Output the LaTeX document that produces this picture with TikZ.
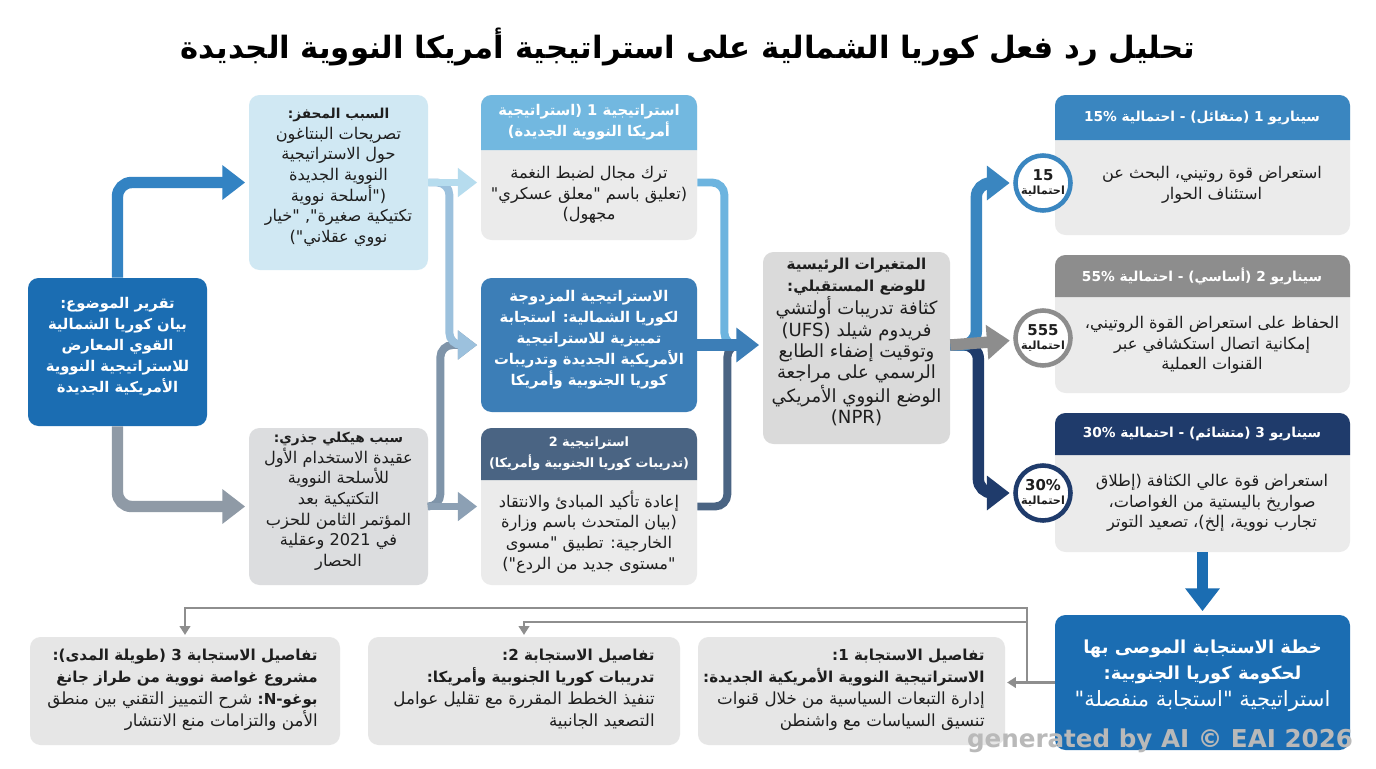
\documentclass[tikz,border=0pt]{standalone}
\usepackage{fontspec}
\setmainfont{DejaVu Sans}
\newfontfamily\arabicfont[Script=Arabic]{DejaVu Sans}
\TeXXeTstate=1
\usetikzlibrary{%
  arrows.meta,%
  fit,% boxes from corner points
  calc%
}

\definecolor{ink}{HTML}{1E1E1E}
\definecolor{topicblue}{HTML}{1B6DB2}
\definecolor{arrowblue}{HTML}{3383C3}
\definecolor{arrowgray}{HTML}{8F9AA6}
\definecolor{causeblue}{HTML}{D0E8F3}
\definecolor{causegray}{HTML}{DCDDDF}
\definecolor{bodygray}{HTML}{EBEBEB}
\definecolor{sthead}{HTML}{72B8E0}
\definecolor{dualblue}{HTML}{3C7EB7}
\definecolor{stslate}{HTML}{4A6483}
\definecolor{paleblue}{HTML}{B6DCEE}
\definecolor{midblue}{HTML}{9CC1DD}
\definecolor{slatelight}{HTML}{8CA0B4}
\definecolor{slatemid}{HTML}{7F94A9}
\definecolor{skyblue}{HTML}{6DB4DF}
\definecolor{varsgray}{HTML}{DADADA}
\definecolor{scnblue}{HTML}{3A86C0}
\definecolor{scngray}{HTML}{8D8D8D}
\definecolor{scnnavy}{HTML}{1F3B6B}
\definecolor{detailgray}{HTML}{E6E6E6}
\definecolor{wiregray}{HTML}{8E8E8E}

\newcommand{\rl}[1]{\beginR#1\endR}
\newcommand{\bt}[1]{{\bfseries\fontsize{7.8}{11.8}\selectfont#1}}
\newcommand{\bd}[1]{{\bfseries\fontsize{8.6}{12.4}\selectfont#1}}
\newcommand{\boxfont}{\arabicfont\fontsize{9.2}{11.8}\selectfont}
\newcommand{\hdfont}{\arabicfont\bfseries\fontsize{7.8}{11.8}\selectfont}
\newcommand{\keyfont}{\arabicfont\bfseries\fontsize{8.4}{12}\selectfont}
\newcommand{\detfont}{\arabicfont\fontsize{9.5}{12.4}\selectfont}
\newcommand{\ringfont}{\arabicfont\bfseries\fontsize{6.4}{8.2}\selectfont}

\begin{document}
\begin{tikzpicture}[
  x=0.02cm, y=-0.02cm,
  box/.style={rounded corners=6pt, inner sep=0pt, align=center, text=ink, font=\boxfont},
  hdtext/.style={align=center, text=white, font=\hdfont, inner sep=0pt},
  flow/.style={line width=6.5pt, rounded corners=8pt,
    -{Triangle[length=13pt,width=19pt]}, shorten >=2pt},
  flowsm/.style={line width=4.5pt, rounded corners=7pt,
    -{Triangle[length=11pt,width=16pt]}, shorten >=2pt},
  pipe/.style={line width=4.5pt, rounded corners=7pt},
  ring/.style={circle, draw=#1, line width=2.6pt, fill=white, minimum size=1.1cm,
    inner sep=0pt, align=center, font=\ringfont, text=ink},
  wire/.style={draw=wiregray, line width=1.2pt},
  wirearrow/.style={wire, -{Triangle[length=5pt,width=6pt]}, shorten >=1pt},
]
\fill[white] (0,0) rectangle (1376,768);
\useasboundingbox (0,0) rectangle (1376,768);

\node[font=\arabicfont\bfseries\fontsize{17.5}{21}\selectfont, text=black] (title) at (688,47)
  {\rl{تحليل رد فعل كوريا الشمالية على استراتيجية أمريكا النووية الجديدة}};

% column 1 and 2
\node[box, fill=topicblue, text=white, font=\keyfont, fit={(28,278) (207,426)}] (topic)
  {\rl{تقرير الموضوع:}\\\rl{بيان كوريا الشمالية}\\\rl{القوي المعارض}\\\rl{للاستراتيجية النووية}\\\rl{الأمريكية الجديدة}};
\node[box, fill=causeblue, fit={(249,95) (428,270)}] (cause1)
  {\rl{\bt{السبب المحفز:}}\\\rl{تصريحات البنتاغون}\\\rl{حول الاستراتيجية}\\\rl{النووية الجديدة}\\\rl{("أسلحة نووية}\\\rl{تكتيكية صغيرة", "خيار}\\\rl{نووي عقلاني")}};
\node[box, fill=causegray, fit={(249,428) (428,585)}] (cause2)
  {\rl{\bt{سبب هيكلي جذري:}}\\\rl{عقيدة الاستخدام الأول}\\\rl{للأسلحة النووية}\\\rl{التكتيكية بعد}\\\rl{المؤتمر الثامن للحزب}\\\rl{في 2021 وعقلية}\\\rl{الحصار}};

% column 3
\node[box, fill=bodygray, fit={(481,95) (697,240)}] (st1) {};
\fill[sthead, rounded corners=6pt] (481,150) -- (481,95) -- (697,95) -- (697,150);
\node[hdtext, font=\keyfont] (st1h) at (589,122) {\rl{استراتيجية 1 (استراتيجية}\\\rl{أمريكا النووية الجديدة)}};
\node[box] (st1b) at (589,195) {\rl{ترك مجال لضبط النغمة}\\\rl{(تعليق باسم "معلق عسكري"}\\\rl{مجهول)}};

\node[box, fill=dualblue, text=white, font=\keyfont, fit={(481,278) (697,412)}] (dual)
  {\rl{الاستراتيجية المزدوجة}\\\rl{لكوريا الشمالية: استجابة}\\\rl{تمييزية للاستراتيجية}\\\rl{الأمريكية الجديدة وتدريبات}\\\rl{كوريا الجنوبية وأمريكا}};

\node[box, fill=bodygray, fit={(481,428) (697,585)}] (st2) {};
\fill[stslate, rounded corners=6pt] (481,480) -- (481,428) -- (697,428) -- (697,480);
\node[hdtext, font=\arabicfont\bfseries\fontsize{7.3}{11.8}\selectfont] (st2h) at (589,454) {\rl{استراتيجية 2}\\\rl{(تدريبات كوريا الجنوبية وأمريكا)}};
\node[box] (st2b) at (589,532) {\rl{إعادة تأكيد المبادئ والانتقاد}\\\rl{(بيان المتحدث باسم وزارة}\\\rl{الخارجية: تطبيق "مسوى}\\\rl{"مستوى جديد من الردع")}};

% column 4
\node[box, fill=varsgray, font=\arabicfont\fontsize{10.3}{12.2}\selectfont, fit={(763,252) (950,444)}] (vars)
  {\rl{\bt{\fontsize{8.6}{12.2}\selectfont المتغيرات الرئيسية}}\\\rl{\bt{\fontsize{8.6}{12.2}\selectfont للوضع المستقبلي:}}\\\rl{كثافة تدريبات أولتشي}\\\rl{فريدوم شيلد \beginL(UFS)\endL}\\\rl{وتوقيت إضفاء الطابع}\\\rl{الرسمي على مراجعة}\\\rl{الوضع النووي الأمريكي}\\(NPR)};

% scenarios
\node[box, fill=bodygray, fit={(1055,95) (1350,235)}] (s1) {};
\fill[scnblue, rounded corners=6pt] (1055,140) -- (1055,95) -- (1350,95) -- (1350,140);
\node[hdtext] (s1h) at (1202,118) {\rl{سيناريو 1 (متفائل) - احتمالية 15\%}};
\node[box] (s1b) at (1212,185) {\rl{استعراض قوة روتيني، البحث عن}\\\rl{استئناف الحوار}};

\node[box, fill=bodygray, fit={(1055,255) (1350,393)}] (s2) {};
\fill[scngray, rounded corners=6pt] (1055,297) -- (1055,255) -- (1350,255) -- (1350,297);
\node[hdtext] (s2h) at (1202,276) {\rl{سيناريو 2 (أساسي) - احتمالية 55\%}};
\node[box] (s2b) at (1212,345) {\rl{الحفاظ على استعراض القوة الروتيني،}\\\rl{إمكانية اتصال استكشافي عبر}\\\rl{القنوات العملية}};

\node[box, fill=bodygray, fit={(1055,413) (1350,552)}] (s3) {};
\fill[scnnavy, rounded corners=6pt] (1055,455) -- (1055,413) -- (1350,413) -- (1350,455);
\node[hdtext] (s3h) at (1202,434) {\rl{سيناريو 3 (متشائم) - احتمالية 30\%}};
\node[box] (s3b) at (1212,503) {\rl{استعراض قوة عالي الكثافة (إطلاق}\\\rl{صواريخ باليستية من الغواصات،}\\\rl{تجارب نووية، إلخ)، تصعيد التوتر}};

\node[ring=scnblue] (c1) at (1043,183) {{\fontsize{8.5}{9}\selectfont 15}\\\rl{احتمالية}};
\node[ring=scngray] (c2) at (1043,338) {{\fontsize{8.5}{9}\selectfont 555}\\\rl{احتمالية}};
\node[ring=scnnavy] (c3) at (1043,493) {{\fontsize{8.5}{9}\selectfont 30\%}\\\rl{احتمالية}};

% bottom row
\node[box, fill=topicblue, text=white, font=\arabicfont\fontsize{12}{15.2}\selectfont, fit={(1055,615) (1350,750)}] (plan)
  {\rl{\textbf{\fontsize{10.2}{15.2}\selectfont خطة الاستجابة الموصى بها}}\\\rl{\textbf{\fontsize{10.2}{15.2}\selectfont لحكومة كوريا الجنوبية:}}\\\rl{استراتيجية "استجابة منفصلة"}};

\node[box, fill=detailgray, fit={(698,637) (1005,745)}] (d1) {};
\node[box, font=\detfont, align=right, anchor=north east] (d1t) at (985,649)
  {\rl{\bd{تفاصيل الاستجابة 1:}}\\\rl{\bd{الاستراتيجية النووية الأمريكية الجديدة:}}\\\rl{إدارة التبعات السياسية من خلال قنوات}\\\rl{تنسيق السياسات مع واشنطن}};
\node[box, fill=detailgray, fit={(368,637) (680,745)}] (d2) {};
\node[box, font=\detfont, align=right, anchor=north east] (d2t) at (655,649)
  {\rl{\bd{تفاصيل الاستجابة 2:}}\\\rl{\bd{تدريبات كوريا الجنوبية وأمريكا:}}\\\rl{تنفيذ الخطط المقررة مع تقليل عوامل}\\\rl{التصعيد الجانبية}};
\node[box, fill=detailgray, fit={(30,637) (340,745)}] (d3) {};
\node[box, font=\detfont, align=right, anchor=north east] (d3t) at (318,649)
  {\rl{\bd{تفاصيل الاستجابة 3 (طويلة المدى):}}\\\rl{\bd{مشروع غواصة نووية من طراز جانغ}}\\\rl{\bd{بوغو-N:} شرح التمييز التقني بين منطق}\\\rl{الأمن والتزامات منع الانتشار}};

% connectors
\draw[flow, arrowblue] (topic.north) |- (cause1.west);
\draw[flow, arrowgray] (topic.south) |- (cause2.west);

\draw[flowsm, slatemid] (cause2.east) -- ++(12,0) |- (dual.west);
\draw[flowsm, midblue] (cause1.east) -- ++(21,0) |- (dual.west);
\draw[flowsm, paleblue] (cause1.east) -- (st1.west |- cause1.east);
\draw[flowsm, slatelight] (cause2.east) -- (st2.west |- cause2.east);

\coordinate (mergeR) at (745,345);
\draw[pipe, skyblue] (st1.east |- cause1.east) -- ++(27,0) |- (mergeR);
\draw[pipe, stslate] (st2.east |- cause2.east) -- ++(30,0) |- (mergeR);
\draw[flow, dualblue] (dual.east) -- (vars.west |- dual.east);

\draw[flow, scnnavy] (vars.east |- dual.east) -- ++(28,0) |- (c3.west);
\draw[flow, scnblue] (vars.east |- dual.east) -- ++(26,0) |- (c1.west);
\draw[flow, scngray] (vars.east |- dual.east) -- (c2);

\draw[flow, topicblue] (s3.south) -- (plan.north);

\coordinate (hub) at (1027,682);
\draw[wirearrow] (plan.west) -- (d1.east |- plan.west);
\draw[wirearrow] (hub) -- ++(0,-74) -| (d3.north);
\draw[wirearrow] (hub) -- ++(0,-60) -| (d2.north);

\node[font=\bfseries\fontsize{14}{16}\selectfont, text=gray!55] (wmark) at (1160,741) {generated by AI © EAI 2026};
\end{tikzpicture}
\end{document}
